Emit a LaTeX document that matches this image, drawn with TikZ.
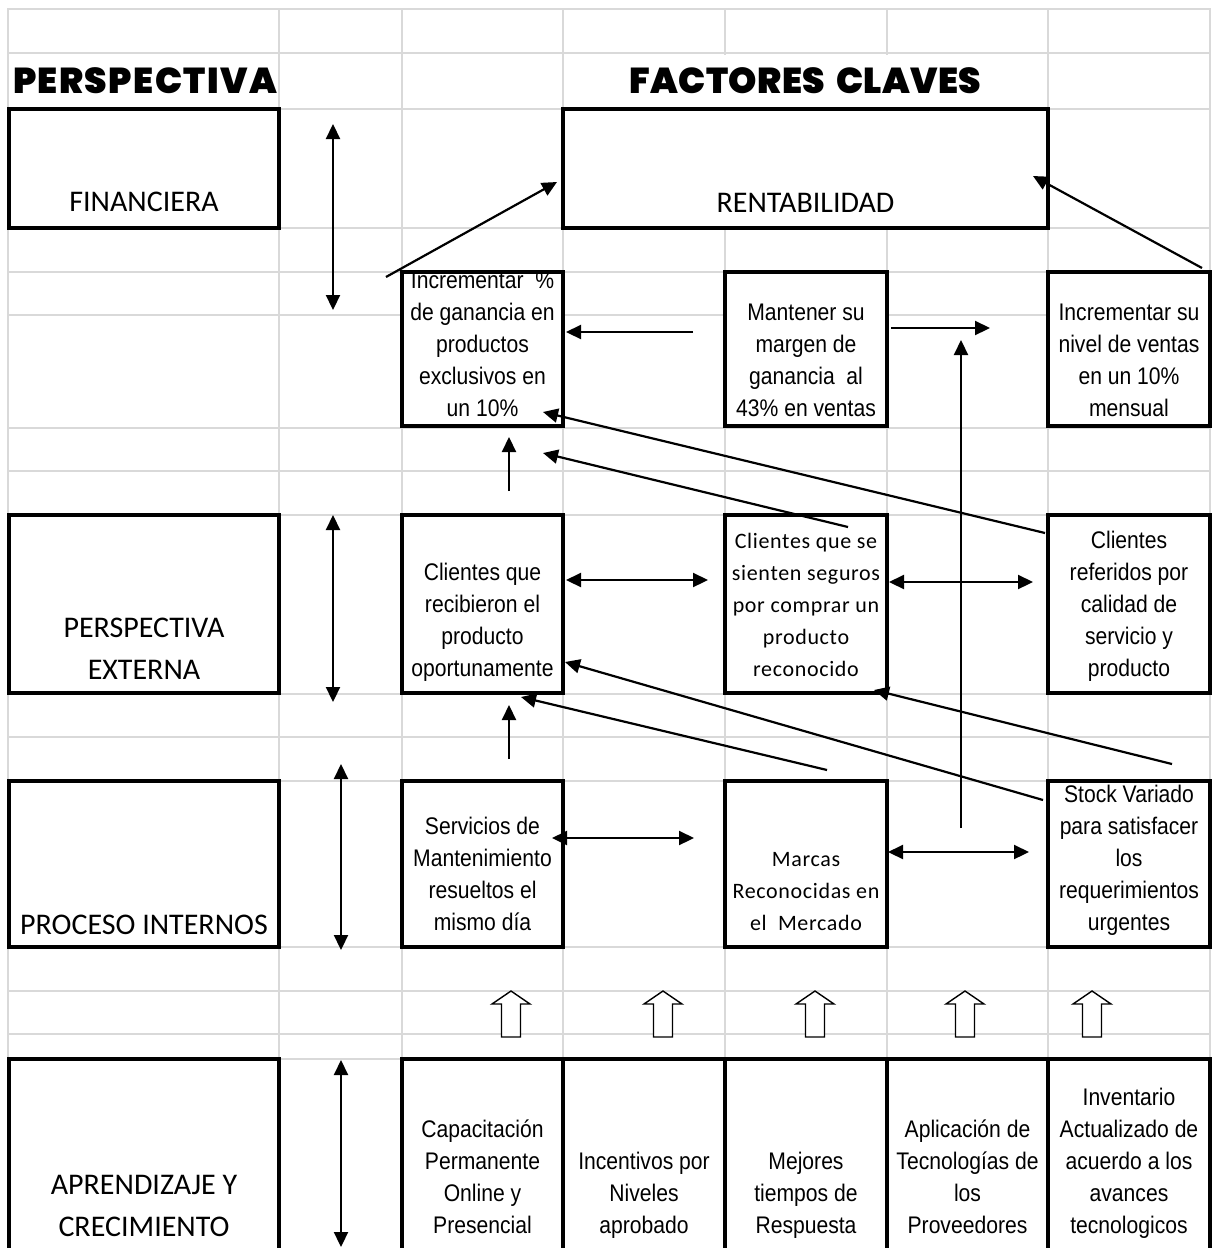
\documentclass[tikz,border=0pt]{standalone}
\usepackage{fontspec}
\setmainfont{Liberation Sans}
\newfontfamily\bodyfont{Liberation Sans}[FakeStretch=0.88]
\newfontfamily\calfont{Carlito}
\newfontfamily\spacedfont{Carlito}[LetterSpace=3]
\newfontfamily\titlefont{Poppins Black}[LetterSpace=4]
\newfontfamily\titlefontb{Poppins Black}[LetterSpace=1]
\usetikzlibrary{arrows.meta}
\definecolor{gridgray}{RGB}{217,217,217}

\begin{document}
\begin{tikzpicture}[x=1pt,y=-1pt,
  gridline/.style={draw=gridgray, line width=2pt, line cap=rect},
  cellbox/.style={draw=black, line width=4pt, fill=white, inner sep=0pt, outer sep=0pt},
  bodytext/.style={font=\bodyfont\fontsize{24}{32}\selectfont, align=center, inner sep=0pt, anchor=south},
  spacedtext/.style={font=\spacedfont\fontsize{22}{32}\selectfont, align=center, inner sep=0pt, anchor=south},
  persptext/.style={font=\calfont\fontsize{30}{42}\selectfont, align=center, inner sep=0pt, anchor=south},
  titletext/.style={font=\titlefont\fontsize{36}{40}\selectfont, inner sep=0pt},
  titletextb/.style={font=\titlefontb\fontsize{36}{40}\selectfont, inner sep=0pt},
  tip/.tip={Triangle[length=15pt,width=14pt]},
  link/.style={line width=2.2pt, -tip},
  dlink/.style={line width=2.2pt, tip-tip},
  hollow/.style={draw=black, line width=1.4pt, fill=white, line join=miter},
]
\useasboundingbox (0,0) rectangle (1219,1248);
\clip (0,0) rectangle (1219,1248);
\fill[white] (0,0) rectangle (1219,1248);

% spreadsheet grid
\foreach \gx in {8,279,402,563,725,887,1048,1210}
  \draw[gridline] (\gx,9) -- (\gx,1248);
\foreach \gy in {9,53,109,228,272,315,428,471,515,694,737,781,947,991,1034,1059}
  \draw[gridline] (8,\gy) -- (1210,\gy);

% headings
\node[titletext, anchor=base west] (ttlp) at (13,93) {PERSPECTIVA};
\node[titletextb, fill=white, minimum width=481, minimum height=52] (ttlf) at (805.5,81) {FACTORES\hspace{5pt} CLAVES};

% perspective column
\node[cellbox, minimum width=270, minimum height=119] (fin) at (144,168.5) {};
\node[cellbox, minimum width=270, minimum height=178] (ext) at (144,604) {};
\node[cellbox, minimum width=270, minimum height=166] (proc) at (144,864) {};
\node[cellbox, minimum width=270, minimum height=216] (apr) at (144,1167) {};

% financial row
\node[cellbox, minimum width=485, minimum height=119] (rent) at (805.5,168.5) {};
\node[cellbox, minimum width=161, minimum height=154] (inc) at (482.5,349) {};
\node[cellbox, minimum width=162, minimum height=154] (man) at (806,349) {};
\node[cellbox, minimum width=162, minimum height=154] (incsu) at (1129,349) {};

% external row
\node[cellbox, minimum width=161, minimum height=178] (cli) at (482.5,604) {};
\node[cellbox, minimum width=162, minimum height=178] (seg) at (806,604) {};
\node[cellbox, minimum width=162, minimum height=178] (ref) at (1129,604) {};

% internal process row
\node[cellbox, minimum width=161, minimum height=166] (serv) at (482.5,864) {};
\node[cellbox, minimum width=162, minimum height=166] (marc) at (806,864) {};
\node[cellbox, minimum width=162, minimum height=166] (stock) at (1129,864) {};

% learning row
\node[cellbox, minimum width=161, minimum height=216] (b1) at (482.5,1167) {};
\node[cellbox, minimum width=162, minimum height=216] (b2) at (644,1167) {};
\node[cellbox, minimum width=162, minimum height=216] (b3) at (806,1167) {};
\node[cellbox, minimum width=161, minimum height=216] (b4) at (967.5,1167) {};
\node[cellbox, minimum width=162, minimum height=216] (b5) at (1129,1167) {};

% labels
\node[persptext] (tfin) at (144,224.6) {FINANCIERA\strut};
\node[persptext] (trent) at (805.5,225.6) {RENTABILIDAD\strut};
\node[persptext] (text) at (144,692.6) {PERSPECTIVA\\EXTERNA\strut};
\node[persptext] (tproc) at (144,947) {PROCESO INTERNOS\strut};
\node[persptext] (tapr) at (144,1249.6) {APRENDIZAJE Y\\CRECIMIENTO\strut};

\node[bodytext] (tinc) at (482.5,426.6) {Incrementar~~\%\\de ganancia en\\productos\\exclusivos en\\un 10\%\strut};
\node[bodytext] (tman) at (806,426.6) {Mantener su\\margen de\\ganancia~~al\\43\% en ventas\strut};
\node[bodytext] (tincsu) at (1129,426.6) {Incrementar su\\nivel de ventas\\en un 10\%\\mensual\strut};

\node[bodytext] (tcli) at (482.5,686.6) {Clientes que\\recibieron el\\producto\\oportunamente\strut};
\node[spacedtext] (tseg) at (806,686.6) {Clientes que se\\sienten seguros\\por comprar un\\producto\\reconocido\strut};
\node[bodytext] (tref) at (1129,686.6) {Clientes\\referidos por\\calidad de\\servicio y\\producto\strut};

\node[bodytext] (tserv) at (482.5,940.6) {Servicios de\\Mantenimiento\\resueltos el\\mismo día\strut};
\node[spacedtext] (tmarc) at (806,940.6) {Marcas\\Reconocidas en\\el~~Mercado\strut};
\node[bodytext] (tstock) at (1129,940.6) {Stock Variado\\para satisfacer\\los\\requerimientos\\urgentes\strut};

\node[bodytext] (tb1) at (482.5,1243.6) {Capacitación\\Permanente\\Online y\\Presencial\strut};
\node[bodytext] (tb2) at (644,1243.6) {Incentivos por\\Niveles\\aprobado\strut};
\node[bodytext] (tb3) at (806,1243.6) {Mejores\\tiempos de\\Respuesta\strut};
\node[bodytext] (tb4) at (967.5,1243.6) {Aplicación de\\Tecnologías de\\los\\Proveedores\strut};
\node[bodytext] (tb5) at (1129,1243.6) {Inventario\\Actualizado de\\acuerdo a los\\avances\\tecnologicos\strut};

% connector end points
\coordinate (v1t) at (333,124);  \coordinate (v1b) at (333,310);
\coordinate (v2t) at (333,515);  \coordinate (v2b) at (333,702);
\coordinate (v3t) at (341,764);  \coordinate (v3b) at (341,950);
\coordinate (v4t) at (341,1060); \coordinate (v4b) at (341,1247);

\coordinate (a1s) at (386,277);  \coordinate (a1e) at (557,182);
\coordinate (a2s) at (1202,268); \coordinate (a2e) at (1033,176);
\coordinate (a3s) at (693,332);  \coordinate (a3e) at (566,332);
\coordinate (a4s) at (891,328);  \coordinate (a4e) at (990,328);
\coordinate (a5s) at (961,828);  \coordinate (a5e) at (961,340);
\coordinate (a6s) at (509,491);  \coordinate (a6e) at (509,437);
\coordinate (a7s) at (1045,533); \coordinate (a7e) at (543,412);
\coordinate (a8s) at (848,527);  \coordinate (a8e) at (543,453);
\coordinate (a9s) at (566,580);  \coordinate (a9e) at (708,580);
\coordinate (a10s) at (889,582); \coordinate (a10e) at (1033,582);
\coordinate (a11s) at (509,759); \coordinate (a11e) at (509,705);
\coordinate (a12s) at (1043,800); \coordinate (a12e) at (565,662);
\coordinate (a13s) at (827,770); \coordinate (a13e) at (521,697);
\coordinate (a14s) at (1172,764); \coordinate (a14e) at (874,690);
\coordinate (a15s) at (552,838); \coordinate (a15e) at (694,838);
\coordinate (a16s) at (888,852); \coordinate (a16e) at (1029,852);

% perspective links
\draw[dlink] (v1t) -- (v1b);
\draw[dlink] (v2t) -- (v2b);
\draw[dlink] (v3t) -- (v3b);
\draw[dlink] (v4t) -- (v4b);

% cause and effect links
\draw[link] (a1s) -- (a1e);
\draw[link] (a2s) -- (a2e);
\draw[link] (a3s) -- (a3e);
\draw[link] (a4s) -- (a4e);
\draw[link] (a5s) -- (a5e);
\draw[link] (a6s) -- (a6e);
\draw[link] (a7s) -- (a7e);
\draw[link] (a8s) -- (a8e);
\draw[dlink] (a9s) -- (a9e);
\draw[dlink] (a10s) -- (a10e);
\draw[link] (a11s) -- (a11e);
\draw[link] (a12s) -- (a12e);
\draw[link] (a13s) -- (a13e);
\draw[link] (a14s) -- (a14e);
\draw[dlink] (a15s) -- (a15e);
\draw[dlink] (a16s) -- (a16e);

% hollow block arrows above the learning row
\foreach \cx in {511,663,815,965,1092}
  \draw[hollow] (\cx,991) -- (\cx+19,1004) -- (\cx+9.5,1004) -- (\cx+9.5,1037)
    -- (\cx-9.5,1037) -- (\cx-9.5,1004) -- (\cx-19,1004) -- cycle;
\end{tikzpicture}
\end{document}
